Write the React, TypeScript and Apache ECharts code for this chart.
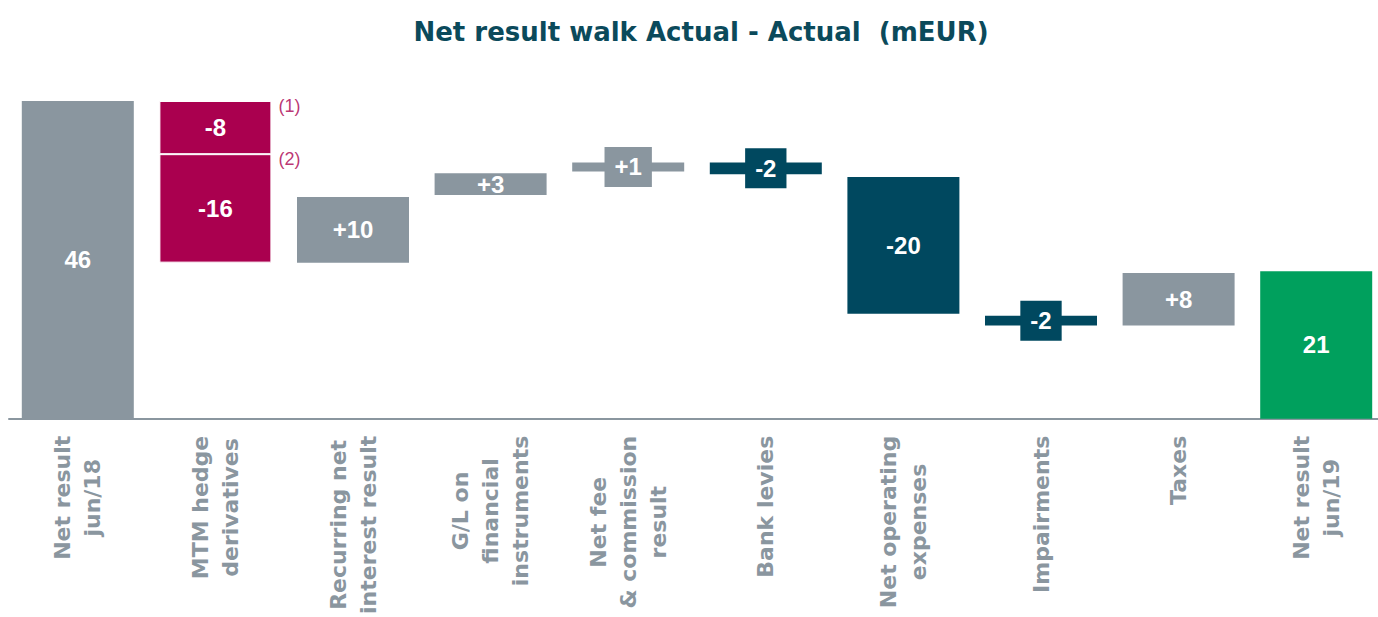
import React, { useEffect, useRef } from "react";
import * as echarts from "echarts";

const categories = [
  "Net result\njun/18",
  "MTM hedge\nderivatives",
  "Recurring net\ninterest result",
  "G/L on\nfinancial\ninstruments",
  "Net fee\n& commission\nresult",
  "Bank levies",
  "Net operating\nexpenses",
  "Impairments",
  "Taxes",
  "Net result\njun/19",
];

// invisible offset under each visible block
const baseValues = [0, 22.6, 22.6, 32.4, 35.8, 35.4, 15.2, 13.5, 13.5, 0];
// main visible block height
const mainValues = [46, 15.7, 9.5, 3.15, 1.3, 1.7, 19.8, 1.4, 7.6, 21.35];
// second MTM block (stacked on top)
const upperValues: (number | null)[] = [null, 7.7, null, null, null, null, null, null, null, null];

const mainLabels = ["46", "-16", "+10", "+3", "+1", "-2", "-20", "-2", "+8", "21"];
const upperLabels = ["", "-8", "", "", "", "", "", "", "", ""];
const boxedLabel = [false, false, false, false, true, true, false, true, false, false];

const GRAY = "#8A969F";
const MAGENTA = "#AA004F";
const TEAL = "#00485F";
const GREEN = "#00A05D";
const barColors = [GRAY, MAGENTA, GRAY, GRAY, GRAY, TEAL, TEAL, TEAL, GRAY, GREEN];

const notes = [
  { idx: 1, value: 46, text: "(1)" },
  { idx: 1, value: 38.3, text: "(2)" },
];

export default function App() {
  const ref = useRef<HTMLDivElement>(null);
  useEffect(() => {
    if (!ref.current) return;
    const chart = echarts.init(ref.current, null, { renderer: "svg" });
    const labelFont = {
      fontFamily: "Liberation Sans, Arial, sans-serif",
      fontWeight: "bold" as const,
      fontSize: 24,
      color: "#fff",
    };
    chart.setOption({
      animation: false,
      title: {
        text: "Net result walk Actual - Actual  (mEUR)",
        left: 696,
        textAlign: "center",
        top: 14,
        textStyle: {
          fontFamily: "DejaVu Sans, sans-serif",
          fontWeight: "bold",
          fontSize: 26,
          color: "#0B4A5B",
        },
      },
      grid: { left: 9, top: 101, width: 1376, height: 321 },
      xAxis: {
        type: "category",
        data: categories,
        axisTick: { show: false },
        axisLine: { lineStyle: { color: GRAY, width: 2 } },
        axisLabel: {
          interval: 0,
          rotate: 90,
          margin: 17,
          color: GRAY,
          fontFamily: "DejaVu Sans, sans-serif",
          fontWeight: "bold",
          fontSize: 22,
          lineHeight: 30,
          formatter: (v: string) =>
            v
              .split("\n")
              .map((l) => `{c|${l}}`)
              .join("\n"),
          rich: {
            c: {
              align: "center",
              color: GRAY,
              fontFamily: "DejaVu Sans, sans-serif",
              fontWeight: "bold",
              fontSize: 22,
              lineHeight: 30,
            },
          },
        },
      },
      yAxis: { type: "value", min: 0, max: 46, show: false, splitLine: { show: false } },
      series: [
        {
          type: "bar",
          stack: "w",
          barWidth: 112,
          silent: true,
          itemStyle: { color: "transparent" },
          data: baseValues,
        },
        {
          type: "bar",
          stack: "w",
          barWidth: 112,
          data: mainValues.map((v, i) => ({
            value: v,
            itemStyle: {
              color: barColors[i],
              borderColor: i === 1 ? "#fff" : barColors[i],
              borderWidth: i === 1 ? 1 : 0,
            },
            label: {
              show: true,
              position: "inside",
              formatter: mainLabels[i],
              ...labelFont,
              lineHeight: 24,
              backgroundColor: boxedLabel[i] ? barColors[i] : "transparent",
              padding: boxedLabel[i] ? [8, 10] : 0,
            },
          })),
        },
        {
          type: "bar",
          stack: "w",
          barWidth: 112,
          data: upperValues.map((v, i) => ({
            value: v,
            itemStyle: { color: barColors[i], borderColor: "#fff", borderWidth: 1 },
            label: {
              show: v != null,
              position: "inside",
              formatter: upperLabels[i],
              ...labelFont,
            },
          })),
        },
        {
          type: "scatter",
          symbolSize: 1,
          itemStyle: { color: "transparent" },
          silent: true,
          data: notes.map((n) => ({
            value: [n.idx, n.value],
            label: {
              show: true,
              position: "inside",
              offset: [74, 5],
              formatter: n.text,
              color: MAGENTA,
              fontFamily: "Liberation Sans, Arial, sans-serif",
              fontSize: 18,
            },
          })),
        },
      ],
    });
    return () => chart.dispose();
  }, []);
  return (
    <div
      style={{
        position: "absolute",
        left: 0,
        top: 0,
        width: 1378,
        height: 617,
        overflow: "hidden",
      }}
    >
      <div ref={ref} style={{ width: 1400, height: 617 }} />
    </div>
  );
}
